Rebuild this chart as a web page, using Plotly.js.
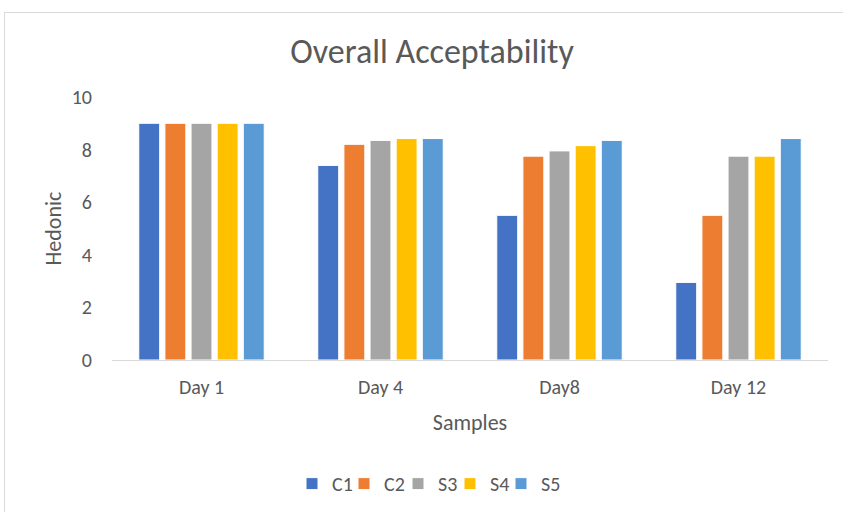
<!DOCTYPE html>
<html><head><meta charset="utf-8">
<script src="https://cdn.plot.ly/plotly-3.0.1.min.js"></script>
<style>
html,body{margin:0;padding:0;background:#fff;}
#chart{position:absolute;left:0;top:0;width:843px;height:512px;}
#frame{position:absolute;left:4px;top:12px;width:845px;height:510px;border:1px solid #d9d9d9;pointer-events:none;}
</style></head>
<body>
<div id="chart"></div>
<div id="frame"></div>
<script>
const categories = ["Day 1", "Day 4", "Day8", "Day 12"];
const seriesNames = ["C1", "C2", "S3", "S4", "S5"];
const C1 = [9, 7.4, 5.5, 2.95];
const C2 = [9, 8.2, 7.75, 5.5];
const S3 = [9, 8.35, 7.95, 7.75];
const S4 = [9, 8.42, 8.15, 7.75];
const S5 = [9, 8.42, 8.35, 8.42];
const colors = ["#4472c4", "#ed7d31", "#a5a5a5", "#ffc000", "#5b9bd5"];
const values = [C1, C2, S3, S4, S5];

const font = "Calibri, Carlito, 'Liberation Sans Narrow', 'Open Sans', sans-serif";
const legendIds = ["legend", "legend2", "legend3", "legend4", "legend5"];
const traces = values.map((v, i) => ({
  type: "bar", name: seriesNames[i], x: categories, y: v,
  legend: legendIds[i],
  marker: {color: colors[i], line: {color: "#ffffff", width: 1}},
  hoverinfo: "x+y+name"
}));

const W = 843, L = 112, R = 15;
const plotW = W - L - R;
// desired left pixel of each legend box
const legendLeftPx = [292, 344, 398, 450, 501];

const layout = {
  width: 843, height: 512,
  paper_bgcolor: "#ffffff", plot_bgcolor: "#ffffff",
  margin: {l: L, r: R, t: 97, b: 152, autoexpand: false},
  barmode: "group", bargap: 0.27, bargroupgap: 0.2,
  font: {family: font, color: "#595959", size: 20},
  title: {text: "Overall Acceptability", font: {size: 34, color: "#595959", family: font}, x: 0.447, xref: "paper", xanchor: "center", y: 0.9, yanchor: "middle"},
  xaxis: {
    type: "category", showgrid: false, showline: true, linecolor: "#d9d9d9", linewidth: 1,
    ticks: "", tickfont: {size: 20, color: "#595959"}, ticklabelstandoff: 9,
    title: {text: "Samples", font: {size: 22, color: "#595959"}, standoff: 16}
  },
  yaxis: {
    range: [0, 10], dtick: 2, showgrid: false, zeroline: false, showline: false,
    ticks: "", tickfont: {size: 20, color: "#595959"}, ticklabelstandoff: 19,
    title: {text: "Hedonic", font: {size: 22, color: "#595959"}, standoff: 4}
  },
  showlegend: true
};
legendIds.forEach((id, i) => {
  layout[id] = {orientation: "h", x: (legendLeftPx[i] - L) / plotW, xanchor: "left",
    y: -0.47, yanchor: "middle", bgcolor: "rgba(0,0,0,0)",
    font: {size: 20, color: "#595959"}, itemwidth: 30};
});
Plotly.newPlot("chart", traces, layout, {displayModeBar: false, staticPlot: true});
</script>
</body></html>
